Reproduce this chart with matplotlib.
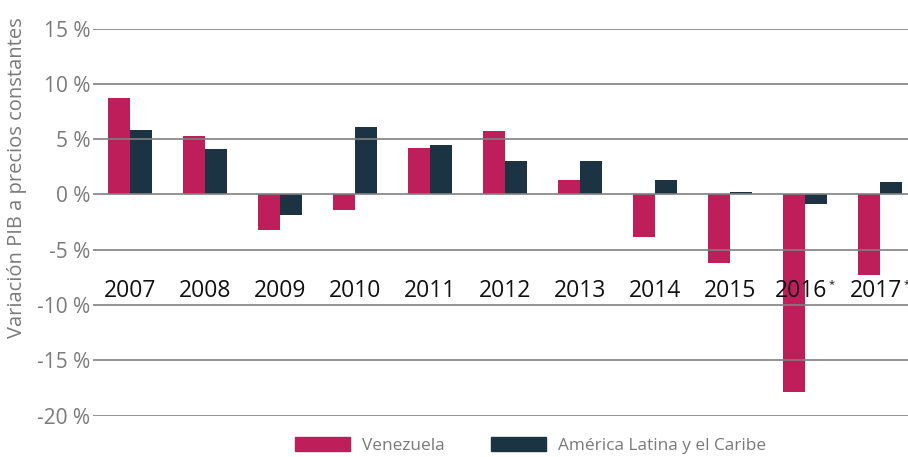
import matplotlib
matplotlib.use('Agg')
import matplotlib.pyplot as plt
from matplotlib.patches import Patch
import numpy as np

# --- Data ---
years = ['2007', '2008', '2009', '2010', '2011', '2012', '2013', '2014', '2015', '2016', '2017']
estimated = [False] * 9 + [True, True]
venezuela = [8.7, 5.3, -3.2, -1.4, 4.2, 5.7, 1.3, -3.9, -6.2, -17.9, -7.3]
latam = [5.8, 4.1, -1.9, 6.1, 4.5, 3.0, 3.0, 1.3, 0.2, -0.9, 1.1]
yticks = [15, 10, 5, 0, -5, -10, -15, -20]

# --- Style ---
VEN_COLOR = '#be1f5a'
LAC_COLOR = '#1c3344'
GRID_COLOR = '#808080'
LABEL_COLOR = '#7a7a7a'
FONT = 'Open Sans'

plt.rcParams['font.family'] = [FONT, 'DejaVu Sans']

fig = plt.figure(figsize=(9.08, 4.57), dpi=100)
ax = fig.add_axes([0.1024, 0.0908, 0.8976, 0.8468])

x = np.arange(len(years))
w = 0.29
ax.bar(x - w / 2, venezuela, width=w, color=VEN_COLOR, zorder=1)
ax.bar(x + w / 2, latam, width=w, color=LAC_COLOR, zorder=1)

for t in yticks:
    ax.axhline(t, color=GRID_COLOR, linewidth=1.2, zorder=2)

ax.set_xlim(-0.493, 10.37)
ax.set_ylim(-20, 15)
ax.set_yticks(yticks)
ax.set_yticklabels([f'{t} %' for t in yticks], fontsize=15, color=LABEL_COLOR)
ax.tick_params(axis='y', length=0, pad=2)
ax.set_xticks([])
for s in ax.spines.values():
    s.set_visible(False)

# year labels sit inside the plot area; estimates get a tiny asterisk
year_texts = []
for i, (yr, est) in enumerate(zip(years, estimated)):
    shift = -3 if est else 0
    t = ax.annotate(yr, (i, -8.7), xytext=(shift, 0), textcoords='offset points',
                    ha='center', va='center', fontsize=16.5, color='#111111', zorder=3)
    year_texts.append((t, est))

fig.canvas.draw()
renderer = fig.canvas.get_renderer()
for t, est in year_texts:
    if not est:
        continue
    bb = t.get_window_extent(renderer)
    fig.text(bb.x1 + 1, bb.y1 - 1, '*', fontsize=8, color='#111111',
             ha='left', va='top', transform=None)

ax.set_ylabel('Variación PIB a precios constantes', fontsize=14.5,
              color=LABEL_COLOR)
ax.yaxis.set_label_coords(-0.081, 0.615)

handles = [Patch(color=VEN_COLOR, label='Venezuela'),
           Patch(color=LAC_COLOR, label='América Latina y el Caribe')]
fig.legend(handles=handles, loc='center', bbox_to_anchor=(0.584, 0.026), ncol=2,
           frameon=False, fontsize=12.4, handlelength=3.2, handleheight=0.87,
           handletextpad=0.7, columnspacing=2.67, labelcolor=LABEL_COLOR)

fig.savefig('out.png', dpi=100)
